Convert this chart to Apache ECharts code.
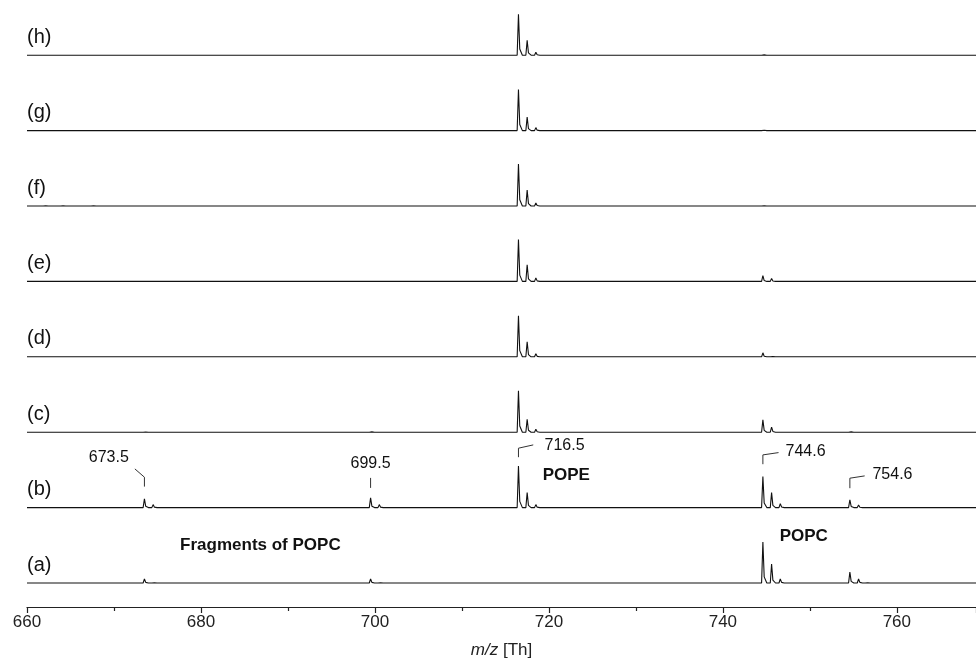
<!DOCTYPE html>
<html>
<head>
<meta charset="utf-8">
<script src="https://cdn.jsdelivr.net/npm/echarts@6/dist/echarts.min.js"></script>
<style>
html,body{margin:0;padding:0;background:#fff;}
#spec{width:976px;height:669px;}
</style>
</head>
<body>
<div id="spec"></div>
<script>
// peak lists [m/z, intensity] for each spectrum, (a) at the bottom .. (h) at the top
var traceNames = ['(a)','(b)','(c)','(d)','(e)','(f)','(g)','(h)'];
var peaksA = [[673.5,4],[674.5,1.5],[699.5,4],[700.5,1.5],[744.6,41],[745.6,19],[746.6,4],[754.6,11],[755.6,4],[756.5,2]];
var peaksB = [[673.5,8.7],[674.5,3],[699.5,9.7],[700.5,3],[716.5,41.7],[717.5,15],[718.5,3],[744.6,31],[745.6,15],[746.6,4],[754.6,7.7],[755.6,2.5]];
var peaksC = [[673.5,1],[699.5,2],[716.5,41.5],[717.5,13],[718.5,3],[744.6,12.3],[745.6,5],[754.6,2]];
var peaksD = [[716.5,41],[717.5,15],[718.5,3],[744.6,4],[745.6,2]];
var peaksE = [[716.5,42],[717.5,16.7],[718.5,3.5],[744.6,5.7],[745.6,3]];
var peaksF = [[662,1],[664,1],[667.5,1],[716.5,42],[717.5,16],[718.5,3],[744.6,2]];
var peaksG = [[716.5,41],[717.5,13.5],[718.5,3],[719.5,1],[744.6,2]];
var peaksH = [[716.5,41],[717.5,15],[718.5,3],[744.6,2]];
var allPeaks = [peaksA,peaksB,peaksC,peaksD,peaksE,peaksF,peaksG,peaksH];

var xMin = 660, xMax = 769.1;
var firstBase = 24, step = 75.4;   // vertical stacking of the spectra

function buildTrace(peaks, base){
	var pts = [[xMin, base]];
	for(var i=0;i<peaks.length;i++){
		var mz = peaks[i][0], h = peaks[i][1];
		pts.push([mz-0.15, base]);
		pts.push([mz, base+h]);
		pts.push([mz+0.15, base+h*0.15]);
		pts.push([mz+0.45, base]);
	}
	pts.push([xMax, base]);
	return pts;
}

var series = [];
for(var k=0;k<allPeaks.length;k++){
	series.push({
		name: traceNames[k],
		type: 'line',
		data: buildTrace(allPeaks[k], firstBase + k*step),
		symbol: 'none',
		silent: true,
		lineStyle: {color:'#111', width:1.1},
		animation: false
	});
}

var tickFont = '"Liberation Sans Narrow","Liberation Sans",Arial,sans-serif';
var myChart = echarts.init(document.getElementById('spec'));
var option = {
	backgroundColor: '#fff',
	grid: {left: 27, right: 0, top: 0, bottom: 62},
	xAxis: {
		type: 'value',
		min: xMin, max: xMax, interval: 20,
		splitLine: {show:false},
		axisLine: {lineStyle:{color:'#222', width:1.2}},
		axisTick: {length:6, lineStyle:{color:'#222', width:1.2}},
		minorTick: {show:true, splitNumber:2, length:4, lineStyle:{color:'#222', width:1.2}},
		axisLabel: {color:'#222', fontSize:17, margin:7, fontFamily:tickFont, showMaxLabel:false},
		name: '{i|m/z} [Th]',
		nameLocation: 'middle',
		nameGap: 35,
		nameTextStyle: {
			color:'#222', fontSize:17, fontFamily:tickFont,
			rich: {i:{fontStyle:'italic', fontSize:17, color:'#222', fontFamily:tickFont}}
		}
	},
	yAxis: {type:'value', show:false, min:0, max:607},
	series: series
};
myChart.setOption(option);

// annotations placed through the chart's own coordinate conversion
function px(x, y){ return myChart.convertToPixel({gridIndex:0}, [x, y]); }
var font = '"Liberation Sans",Arial,sans-serif';
var g = [];
for(var k=0;k<traceNames.length;k++){
	var p = px(xMin, firstBase + k*step + 18);
	g.push({type:'text', x:p[0], y:p[1], style:{text:traceNames[k], font:'20px '+font, fill:'#111', textVerticalAlign:'middle'}});
}
function addText(txt, x, y, size, bold, align){
	var p = px(x, y);
	g.push({type:'text', x:p[0], y:p[1], style:{text:txt, font:(bold?'bold ':'')+size+'px '+font, fill:'#111', textAlign:align||'center', textVerticalAlign:'middle'}});
}
function addLeader(pts){
	var arr = pts.map(function(q){ return px(q[0], q[1]); });
	g.push({type:'polyline', shape:{points:arr}, style:{stroke:'#333', lineWidth:1, fill:null}});
}
var bB = firstBase + step;   // baseline of (b)
addText('673.5', 669.4, bB+49.7, 16, false);
addLeader([[672.4, bB+38.7],[673.5, bB+30.4],[673.5, bB+21]]);
addText('699.5', 699.5, bB+43.7, 16, false);
addLeader([[699.5, bB+29.7],[699.5, bB+19.7]]);
addText('716.5', 721.8, bB+61.7, 16, false);
addLeader([[718.2, bB+62.7],[716.5, bB+59.4],[716.5, bB+50.4]]);
addText('POPE', 722.0, bB+32.7, 17, true);
addText('744.6', 749.5, bB+56, 16, false);
addLeader([[746.4, bB+55],[744.6, bB+52.7],[744.6, bB+43.4]]);
addText('754.6', 759.5, bB+33.4, 16, false);
addLeader([[756.3, bB+31.7],[754.6, bB+29.4],[754.6, bB+19.4]]);
addText('POPC', 749.3, firstBase+46.3, 17, true);
addText('Fragments of POPC', 677.6, firstBase+38, 17, true, 'left');
myChart.setOption({graphic: g});
</script>
</body>
</html>
